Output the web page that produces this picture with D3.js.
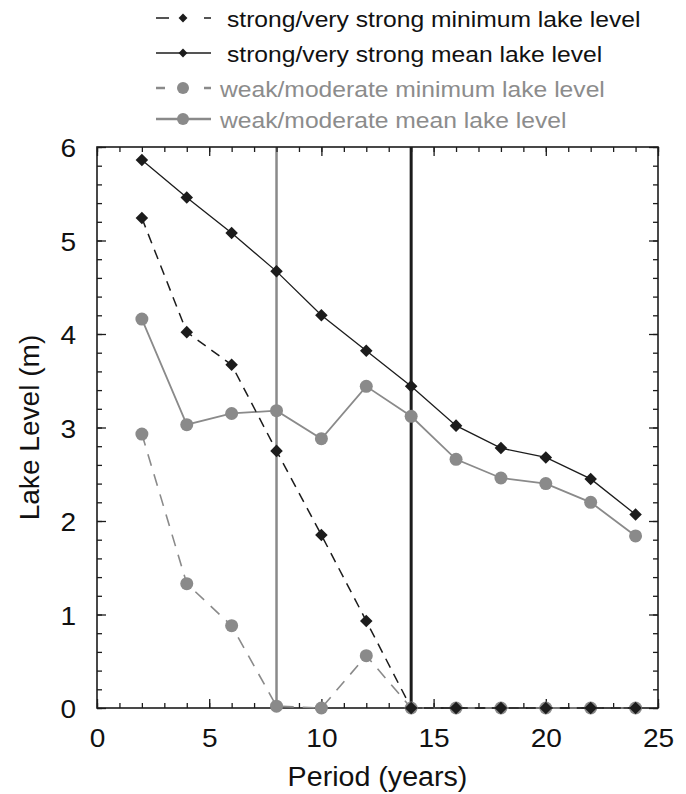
<!DOCTYPE html>
<html>
<head>
<meta charset="utf-8">
<script src="https://cdn.jsdelivr.net/npm/d3@7"></script>
<style>
  body { margin: 0; background: #fff; }
  svg text { font-family: "Liberation Sans", Arial, sans-serif; }
</style>
</head>
<body>
<svg id="chart" width="686" height="794"></svg>
<script>
// periods (years)
const periods = [2, 4, 6, 8, 10, 12, 14, 16, 18, 20, 22, 24];

// lake levels (m)
const strongMin = [5.24, 4.02, 3.67, 2.75, 1.85, 0.93, 0, 0, 0, 0, 0, 0];
const strongMean = [5.86, 5.46, 5.08, 4.67, 4.20, 3.82, 3.44, 3.02, 2.78, 2.68, 2.45, 2.07];
const weakMin = [2.93, 1.33, 0.88, 0.02, 0, 0.56, 0, 0, 0, 0, 0, 0];
const weakMean = [4.16, 3.03, 3.15, 3.18, 2.88, 3.44, 3.12, 2.66, 2.46, 2.40, 2.20, 1.84];

// vertical marker lines
const markerPeriods = [8, 14];

const legendLabels = [
  'strong/very strong minimum lake level',
  'strong/very strong mean lake level',
  'weak/moderate minimum lake level',
  'weak/moderate mean lake level',
];

const xTicks = [0, 5, 10, 15, 20, 25];
const yTicks = [0, 1, 2, 3, 4, 5, 6];

const BLACK = '#1c1c1c';
const GRAY = '#8a8a8a';

const svg = d3.select('#chart');
const x = d3.scaleLinear().domain([0, 25]).range([97, 658]);
const y = d3.scaleLinear().domain([0, 6]).range([708, 147]);

// widen text a little, the source figure is stretched horizontally
function stretch(sel, k) {
  sel.each(function () {
    const len = this.getComputedTextLength();
    d3.select(this).attr('textLength', len * k).attr('lengthAdjust', 'spacingAndGlyphs');
  });
}

// reference lines
svg.selectAll('line.ref')
  .data(markerPeriods)
  .join('line')
  .attr('x1', d => x(d)).attr('x2', d => x(d))
  .attr('y1', y(6)).attr('y2', y(0))
  .attr('stroke', (d, i) => i === 0 ? GRAY : BLACK)
  .attr('stroke-width', (d, i) => i === 0 ? 2.5 : 3);

// axes with inward ticks on all four sides
const minorX = d3.range(0, 26, 1);
const minorY = d3.range(0, 6.01, 0.2);

function addAxis(axisFn, scale, tickVals, size, transform, labels) {
  const a = axisFn(scale).tickValues(tickVals).tickSize(-size).tickPadding(labels ? 21 : 0)
    .tickFormat(labels ? d3.format('d') : () => '');
  const g = svg.append('g').attr('transform', transform).call(a);
  g.select('.domain').remove();
  g.selectAll('line').attr('stroke', BLACK).attr('stroke-width', 1.3);
  g.selectAll('text').attr('font-size', 26).attr('fill', '#111');
  return g;
}

addAxis(d3.axisBottom, x, minorX, 5, `translate(0,${y(0)})`, false);
const xg = addAxis(d3.axisBottom, x, xTicks, 9, `translate(0,${y(0)})`, true);
addAxis(d3.axisTop, x, minorX, 5, `translate(0,${y(6)})`, false);
addAxis(d3.axisTop, x, xTicks, 9, `translate(0,${y(6)})`, false);
addAxis(d3.axisLeft, y, minorY, 5, `translate(${x(0)},0)`, false);
const yg = addAxis(d3.axisLeft, y, yTicks, 9, `translate(${x(0)},0)`, true);
addAxis(d3.axisRight, y, minorY, 5, `translate(${x(25)},0)`, false);
addAxis(d3.axisRight, y, yTicks, 9, `translate(${x(25)},0)`, false);
stretch(xg.selectAll('text'), 1.08);
stretch(yg.selectAll('text'), 1.08);
yg.selectAll('text').attr('dy', '0.38em');

svg.append('rect')
  .attr('x', x(0)).attr('y', y(6))
  .attr('width', x(25) - x(0)).attr('height', y(0) - y(6))
  .attr('fill', 'none').attr('stroke', BLACK).attr('stroke-width', 1.6);

// axis titles
svg.append('text')
  .attr('x', (x(0) + x(25)) / 2).attr('y', 786)
  .attr('text-anchor', 'middle').attr('font-size', 27).attr('fill', '#111')
  .text('Period (years)')
  .call(stretch, 1.06);

svg.append('text')
  .attr('transform', `translate(39,${(y(0) + y(6)) / 2}) rotate(-90)`)
  .attr('text-anchor', 'middle').attr('font-size', 27).attr('fill', '#111')
  .text('Lake Level (m)')
  .call(stretch, 1.04);

// series
const line = d3.line().x(d => x(d[0])).y(d => y(d[1]));
const diamond = d3.symbol().type(d3.symbolDiamond2).size(100);
const series = [
  { vals: weakMin, color: GRAY, dash: '12,9', width: 1.6, mark: 'circle' },
  { vals: weakMean, color: GRAY, dash: null, width: 1.8, mark: 'circle' },
  { vals: strongMin, color: BLACK, dash: '10,7', width: 1.5, mark: 'diamond' },
  { vals: strongMean, color: BLACK, dash: null, width: 1.3, mark: 'diamond' },
];

series.forEach(s => {
  const pts = periods.map((p, i) => [p, s.vals[i]]);
  svg.append('path')
    .attr('d', line(pts))
    .attr('fill', 'none')
    .attr('stroke', s.color)
    .attr('stroke-width', s.width)
    .attr('stroke-dasharray', s.dash);
  if (s.mark === 'circle') {
    svg.append('g').selectAll('circle').data(pts).join('circle')
      .attr('cx', d => x(d[0])).attr('cy', d => y(d[1]))
      .attr('r', 6.5).attr('fill', GRAY);
  } else {
    svg.append('g').selectAll('path').data(pts).join('path')
      .attr('d', diamond)
      .attr('transform', d => `translate(${x(d[0])},${y(d[1])})`)
      .attr('fill', BLACK);
  }
});

// legend
const legendRows = [
  { y: 18, color: BLACK, dash: '13,35', mark: 'diamond', size: 50, tx: 227 },
  { y: 53, color: BLACK, dash: null, mark: 'diamond', size: 50, tx: 227 },
  { y: 88, color: GRAY, dash: '9,39', mark: 'circle', size: 6, tx: 220 },
  { y: 119, color: GRAY, dash: null, mark: 'circle', size: 6, tx: 220 },
];

legendRows.forEach((r, i) => {
  const g = svg.append('g');
  g.append('line')
    .attr('x1', 156).attr('x2', 211).attr('y1', r.y).attr('y2', r.y)
    .attr('stroke', r.color).attr('stroke-width', r.mark === 'circle' ? 2.4 : 1.4)
    .attr('stroke-dasharray', r.dash);
  if (r.mark === 'circle') {
    g.append('circle').attr('cx', 183).attr('cy', r.y).attr('r', r.size).attr('fill', r.color);
  } else {
    g.append('path').attr('d', d3.symbol().type(d3.symbolDiamond2).size(r.size)())
      .attr('transform', `translate(183,${r.y})`).attr('fill', r.color);
  }
  g.append('text')
    .attr('x', r.tx).attr('y', r.y + 9)
    .attr('font-size', 22).attr('fill', r.color === GRAY ? '#8c8c8c' : '#111')
    .text(legendLabels[i])
    .call(stretch, 1.12);
});
</script>
</body>
</html>
